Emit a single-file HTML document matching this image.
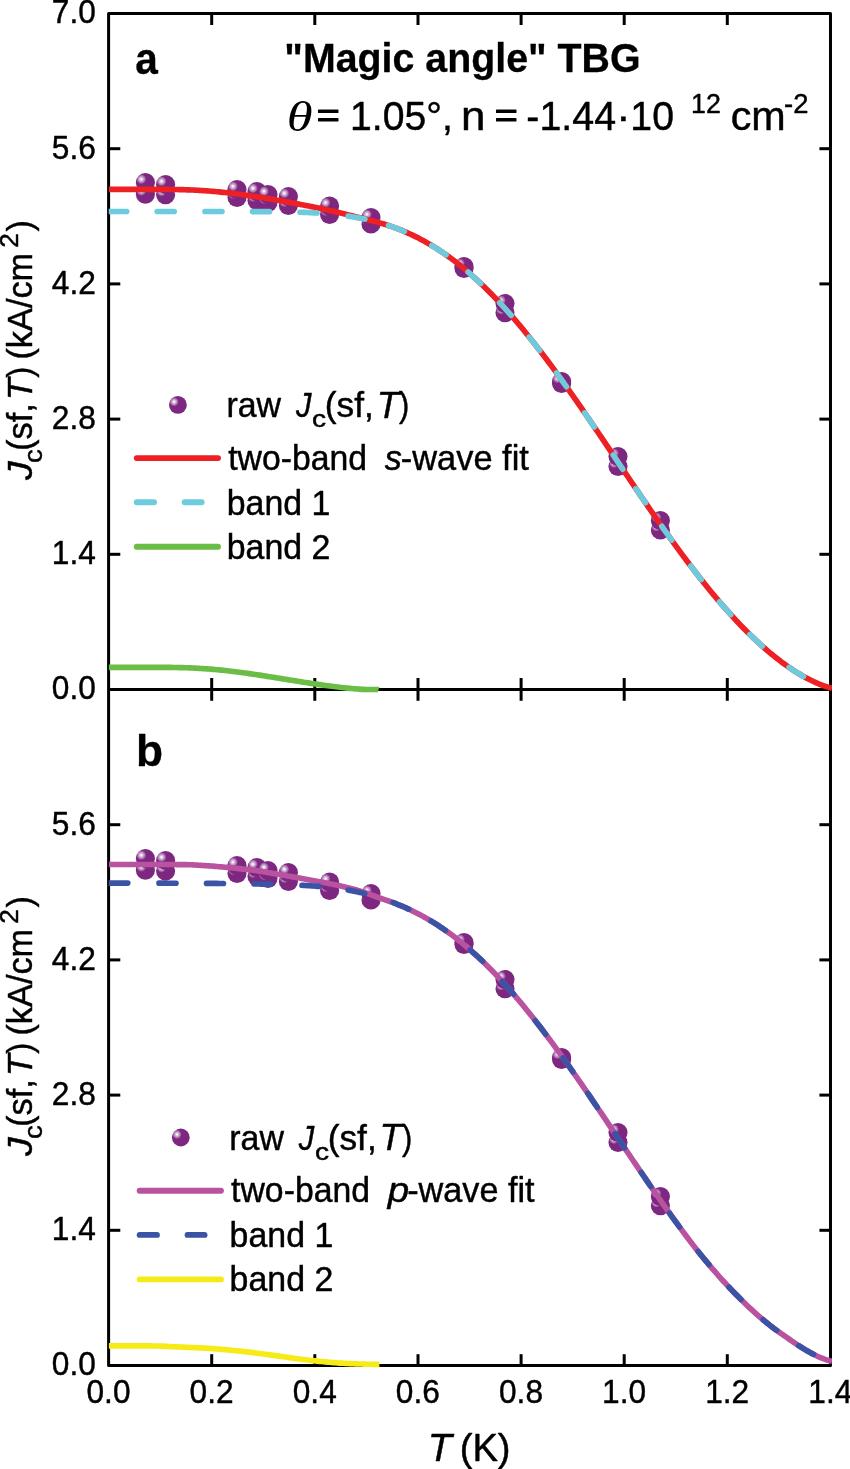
<!DOCTYPE html>
<html><head><meta charset="utf-8"><title>Magic angle TBG - Jc(sf,T)</title>
<style>
html,body{margin:0;padding:0;background:#fff;}
svg{display:block;will-change:transform}
text{font-family:"Liberation Sans",Arial,Helvetica,sans-serif;fill:#000;stroke:#000;stroke-width:0.45px;stroke-linejoin:round}
.i{font-style:italic}
.b{font-weight:bold;stroke-width:0.3px}
.si{font-family:"Liberation Serif","DejaVu Serif",serif;font-style:italic}
.ax{stroke:#000;stroke-width:3;fill:none;stroke-linecap:butt;stroke-linejoin:round}
.cv{fill:none;stroke-width:5.65;stroke-linecap:butt;stroke-linejoin:round}
.ds{fill:none;stroke-width:5.65;stroke-linecap:round;stroke-linejoin:round}
.lg{fill:none;stroke-width:5.9;stroke-linecap:round}
</style></head><body>
<svg width="850" height="1469" viewBox="0 0 850 1469">
<defs>
<radialGradient id="sph" cx="0.285" cy="0.325" r="0.26">
<stop offset="0" stop-color="#ffffff"/>
<stop offset="0.10" stop-color="#ffffff"/>
<stop offset="0.30" stop-color="#dfc2e0"/>
<stop offset="0.62" stop-color="#b888bc"/>
<stop offset="0.88" stop-color="#914a96"/>
<stop offset="1" stop-color="#7d2781"/>
</radialGradient>
<clipPath id="cp"><rect x="108.7" y="0" width="723.3" height="1469"/></clipPath>
</defs>
<rect width="850" height="1469" fill="#fff"/>

<g class="ax">
<rect x="108.6" y="13.5" width="721.9" height="1352.0"/>
<line x1="108.6" y1="689.5" x2="830.5" y2="689.5"/>
<line x1="211.7" y1="13.5" x2="211.7" y2="25"/>
<line x1="211.7" y1="678" x2="211.7" y2="700.8"/>
<line x1="211.7" y1="1354.2" x2="211.7" y2="1365.5"/>
<line x1="314.8" y1="13.5" x2="314.8" y2="25"/>
<line x1="314.8" y1="678" x2="314.8" y2="700.8"/>
<line x1="314.8" y1="1354.2" x2="314.8" y2="1365.5"/>
<line x1="418.0" y1="13.5" x2="418.0" y2="25"/>
<line x1="418.0" y1="678" x2="418.0" y2="700.8"/>
<line x1="418.0" y1="1354.2" x2="418.0" y2="1365.5"/>
<line x1="521.1" y1="13.5" x2="521.1" y2="25"/>
<line x1="521.1" y1="678" x2="521.1" y2="700.8"/>
<line x1="521.1" y1="1354.2" x2="521.1" y2="1365.5"/>
<line x1="624.2" y1="13.5" x2="624.2" y2="25"/>
<line x1="624.2" y1="678" x2="624.2" y2="700.8"/>
<line x1="624.2" y1="1354.2" x2="624.2" y2="1365.5"/>
<line x1="727.3" y1="13.5" x2="727.3" y2="25"/>
<line x1="727.3" y1="678" x2="727.3" y2="700.8"/>
<line x1="727.3" y1="1354.2" x2="727.3" y2="1365.5"/>
<line x1="108.6" y1="554.3" x2="120.3" y2="554.3"/>
<line x1="819.4" y1="554.3" x2="830.5" y2="554.3"/>
<line x1="108.6" y1="419.1" x2="120.3" y2="419.1"/>
<line x1="819.4" y1="419.1" x2="830.5" y2="419.1"/>
<line x1="108.6" y1="283.9" x2="120.3" y2="283.9"/>
<line x1="819.4" y1="283.9" x2="830.5" y2="283.9"/>
<line x1="108.6" y1="148.7" x2="120.3" y2="148.7"/>
<line x1="819.4" y1="148.7" x2="830.5" y2="148.7"/>
<line x1="108.6" y1="1230.3" x2="120.3" y2="1230.3"/>
<line x1="819.4" y1="1230.3" x2="830.5" y2="1230.3"/>
<line x1="108.6" y1="1095.1" x2="120.3" y2="1095.1"/>
<line x1="819.4" y1="1095.1" x2="830.5" y2="1095.1"/>
<line x1="108.6" y1="959.9" x2="120.3" y2="959.9"/>
<line x1="819.4" y1="959.9" x2="830.5" y2="959.9"/>
<line x1="108.6" y1="824.7" x2="120.3" y2="824.7"/>
<line x1="819.4" y1="824.7" x2="830.5" y2="824.7"/>
</g>
<g><circle cx="145.4" cy="194.2" r="9.55" fill="url(#sph)"/>
<circle cx="145.4" cy="182.5" r="9.55" fill="url(#sph)"/>
<circle cx="165.6" cy="194.8" r="9.55" fill="url(#sph)"/>
<circle cx="165.6" cy="184.6" r="9.55" fill="url(#sph)"/>
<circle cx="237.0" cy="197.4" r="9.55" fill="url(#sph)"/>
<circle cx="237.0" cy="189.6" r="9.55" fill="url(#sph)"/>
<circle cx="257.0" cy="200.4" r="9.55" fill="url(#sph)"/>
<circle cx="257.0" cy="191.6" r="9.55" fill="url(#sph)"/>
<circle cx="268.0" cy="202.4" r="9.55" fill="url(#sph)"/>
<circle cx="268.0" cy="194.6" r="9.55" fill="url(#sph)"/>
<circle cx="288.4" cy="205.4" r="9.55" fill="url(#sph)"/>
<circle cx="288.4" cy="196.6" r="9.55" fill="url(#sph)"/>
<circle cx="329.6" cy="214.4" r="9.55" fill="url(#sph)"/>
<circle cx="329.6" cy="206.0" r="9.55" fill="url(#sph)"/>
<circle cx="371.0" cy="224.0" r="9.55" fill="url(#sph)"/>
<circle cx="371.0" cy="217.6" r="9.55" fill="url(#sph)"/>
<circle cx="464.0" cy="268.4" r="9.55" fill="url(#sph)"/>
<circle cx="464.0" cy="266.6" r="9.55" fill="url(#sph)"/>
<circle cx="505.0" cy="312.8" r="9.55" fill="url(#sph)"/>
<circle cx="505.0" cy="303.6" r="9.55" fill="url(#sph)"/>
<circle cx="561.6" cy="383.4" r="9.55" fill="url(#sph)"/>
<circle cx="561.6" cy="381.6" r="9.55" fill="url(#sph)"/>
<circle cx="618.0" cy="466.4" r="9.55" fill="url(#sph)"/>
<circle cx="618.0" cy="456.6" r="9.55" fill="url(#sph)"/>
<circle cx="660.4" cy="529.9" r="9.55" fill="url(#sph)"/>
<circle cx="660.4" cy="520.5" r="9.55" fill="url(#sph)"/></g>
<g><circle cx="145.4" cy="870.2" r="9.55" fill="url(#sph)"/>
<circle cx="145.4" cy="858.5" r="9.55" fill="url(#sph)"/>
<circle cx="165.6" cy="870.9" r="9.55" fill="url(#sph)"/>
<circle cx="165.6" cy="860.5" r="9.55" fill="url(#sph)"/>
<circle cx="237.0" cy="873.5" r="9.55" fill="url(#sph)"/>
<circle cx="237.0" cy="865.5" r="9.55" fill="url(#sph)"/>
<circle cx="257.0" cy="876.5" r="9.55" fill="url(#sph)"/>
<circle cx="257.0" cy="867.5" r="9.55" fill="url(#sph)"/>
<circle cx="268.0" cy="878.5" r="9.55" fill="url(#sph)"/>
<circle cx="268.0" cy="870.5" r="9.55" fill="url(#sph)"/>
<circle cx="288.4" cy="881.5" r="9.55" fill="url(#sph)"/>
<circle cx="288.4" cy="872.5" r="9.55" fill="url(#sph)"/>
<circle cx="329.6" cy="890.5" r="9.55" fill="url(#sph)"/>
<circle cx="329.6" cy="882.0" r="9.55" fill="url(#sph)"/>
<circle cx="371.0" cy="900.0" r="9.55" fill="url(#sph)"/>
<circle cx="371.0" cy="893.5" r="9.55" fill="url(#sph)"/>
<circle cx="464.0" cy="944.5" r="9.55" fill="url(#sph)"/>
<circle cx="464.0" cy="942.5" r="9.55" fill="url(#sph)"/>
<circle cx="505.0" cy="988.8" r="9.55" fill="url(#sph)"/>
<circle cx="505.0" cy="979.5" r="9.55" fill="url(#sph)"/>
<circle cx="561.6" cy="1059.5" r="9.55" fill="url(#sph)"/>
<circle cx="561.6" cy="1057.5" r="9.55" fill="url(#sph)"/>
<circle cx="618.0" cy="1142.5" r="9.55" fill="url(#sph)"/>
<circle cx="618.0" cy="1132.5" r="9.55" fill="url(#sph)"/>
<circle cx="660.4" cy="1205.8" r="9.55" fill="url(#sph)"/>
<circle cx="660.4" cy="1196.5" r="9.55" fill="url(#sph)"/></g>
<g clip-path="url(#cp)">
<path class="cv" stroke="#ed2024" d="M108.60,189.35 L110.61,189.35 L112.62,189.35 L114.63,189.35 L116.64,189.35 L118.65,189.35 L120.66,189.35 L122.67,189.35 L124.68,189.35 L126.69,189.35 L128.69,189.35 L130.70,189.35 L132.71,189.35 L134.72,189.35 L136.73,189.35 L138.74,189.35 L140.75,189.35 L142.76,189.35 L144.77,189.35 L146.78,189.35 L148.79,189.35 L150.80,189.35 L152.81,189.35 L154.82,189.35 L156.83,189.36 L158.84,189.36 L160.85,189.37 L162.85,189.38 L164.86,189.39 L166.87,189.41 L168.88,189.42 L170.89,189.45 L172.90,189.47 L174.91,189.50 L176.92,189.54 L178.93,189.58 L180.94,189.63 L182.95,189.68 L184.96,189.74 L186.97,189.81 L188.98,189.88 L190.99,189.96 L193.00,190.05 L195.01,190.15 L197.02,190.25 L199.02,190.36 L201.03,190.48 L203.04,190.61 L205.05,190.75 L207.06,190.89 L209.07,191.05 L211.08,191.21 L213.09,191.38 L215.10,191.55 L217.11,191.74 L219.12,191.93 L221.13,192.13 L223.14,192.34 L225.15,192.56 L227.16,192.78 L229.17,193.01 L231.18,193.24 L233.19,193.49 L235.19,193.74 L237.20,193.99 L239.21,194.26 L241.22,194.53 L243.23,194.80 L245.24,195.08 L247.25,195.37 L249.26,195.66 L251.27,195.95 L253.28,196.25 L255.29,196.56 L257.30,196.87 L259.31,197.18 L261.32,197.50 L263.33,197.82 L265.34,198.15 L267.35,198.48 L269.36,198.82 L271.37,199.16 L273.37,199.50 L275.38,199.84 L277.39,200.19 L279.40,200.55 L281.41,200.90 L283.42,201.26 L285.43,201.62 L287.44,201.99 L289.45,202.36 L291.46,202.73 L293.47,203.11 L295.48,203.49 L297.49,203.88 L299.50,204.26 L301.51,204.65 L303.52,205.04 L305.53,205.43 L307.53,205.83 L309.54,206.23 L311.55,206.63 L313.56,207.04 L315.57,207.45 L317.58,207.87 L319.59,208.29 L321.60,208.72 L323.61,209.15 L325.62,209.59 L327.63,210.03 L329.64,210.47 L331.65,210.93 L333.66,211.38 L335.67,211.84 L337.68,212.31 L339.69,212.78 L341.70,213.26 L343.71,213.75 L345.71,214.23 L347.72,214.73 L349.73,215.23 L351.74,215.73 L353.75,216.24 L355.76,216.75 L357.77,217.26 L359.78,217.77 L361.79,218.29 L363.80,218.80 L365.81,219.30 L367.82,219.77 L369.83,220.23 L371.84,220.72 L373.85,221.22 L375.86,221.74 L377.87,222.29 L379.88,222.85 L381.88,223.43 L383.89,224.04 L385.90,224.67 L387.91,225.31 L389.92,225.98 L391.93,226.68 L393.94,227.39 L395.95,228.13 L397.96,228.89 L399.97,229.67 L401.98,230.48 L403.99,231.32 L406.00,232.18 L408.01,233.06 L410.02,233.97 L412.03,234.90 L414.04,235.86 L416.04,236.84 L418.05,237.85 L420.06,238.89 L422.07,239.96 L424.08,241.06 L426.09,242.18 L428.10,243.33 L430.11,244.51 L432.12,245.72 L434.13,246.95 L436.14,248.21 L438.15,249.50 L440.16,250.82 L442.17,252.17 L444.18,253.54 L446.19,254.94 L448.20,256.37 L450.21,257.83 L452.22,259.32 L454.22,260.83 L456.23,262.38 L458.24,263.95 L460.25,265.55 L462.26,267.18 L464.27,268.84 L466.28,270.53 L468.29,272.24 L470.30,273.99 L472.31,275.76 L474.32,277.56 L476.33,279.39 L478.34,281.24 L480.35,283.13 L482.36,285.04 L484.37,286.98 L486.38,288.95 L488.38,290.94 L490.39,292.96 L492.40,295.01 L494.41,297.09 L496.42,299.19 L498.43,301.32 L500.44,303.47 L502.45,305.65 L504.46,307.86 L506.47,310.09 L508.48,312.34 L510.49,314.62 L512.50,316.93 L514.51,319.26 L516.52,321.61 L518.53,323.99 L520.54,326.39 L522.55,328.81 L524.56,331.26 L526.56,333.73 L528.57,336.22 L530.58,338.73 L532.59,341.26 L534.60,343.81 L536.61,346.39 L538.62,348.98 L540.63,351.59 L542.64,354.22 L544.65,356.87 L546.66,359.54 L548.67,362.23 L550.68,364.93 L552.69,367.65 L554.70,370.39 L556.71,373.14 L558.72,375.91 L560.73,378.69 L562.73,381.49 L564.74,384.30 L566.75,387.12 L568.76,389.96 L570.77,392.81 L572.78,395.67 L574.79,398.54 L576.80,401.43 L578.81,404.32 L580.82,407.23 L582.83,410.14 L584.84,413.06 L586.85,415.99 L588.86,418.93 L590.87,421.88 L592.88,424.83 L594.89,427.79 L596.89,430.76 L598.90,433.72 L600.91,436.70 L602.92,439.68 L604.93,442.66 L606.94,445.64 L608.95,448.63 L610.96,451.62 L612.97,454.61 L614.98,457.60 L616.99,460.59 L619.00,463.58 L621.01,466.57 L623.02,469.56 L625.03,472.55 L627.04,475.54 L629.05,478.52 L631.06,481.50 L633.07,484.47 L635.07,487.44 L637.08,490.40 L639.09,493.36 L641.10,496.32 L643.11,499.26 L645.12,502.20 L647.13,505.14 L649.14,508.06 L651.15,510.98 L653.16,513.88 L655.17,516.78 L657.18,519.67 L659.19,522.54 L661.20,525.41 L663.21,528.26 L665.22,531.10 L667.23,533.93 L669.24,536.75 L671.24,539.56 L673.25,542.35 L675.26,545.12 L677.27,547.88 L679.28,550.63 L681.29,553.36 L683.30,556.07 L685.31,558.77 L687.32,561.45 L689.33,564.12 L691.34,566.77 L693.35,569.40 L695.36,572.01 L697.37,574.60 L699.38,577.17 L701.39,579.72 L703.40,582.26 L705.41,584.77 L707.41,587.27 L709.42,589.74 L711.43,592.19 L713.44,594.62 L715.45,597.02 L717.46,599.41 L719.47,601.77 L721.48,604.11 L723.49,606.43 L725.50,608.72 L727.51,610.99 L729.52,613.23 L731.53,615.45 L733.54,617.65 L735.55,619.82 L737.56,621.96 L739.57,624.08 L741.58,626.17 L743.58,628.24 L745.59,630.28 L747.60,632.29 L749.61,634.27 L751.62,636.23 L753.63,638.16 L755.64,640.07 L757.65,641.94 L759.66,643.79 L761.67,645.60 L763.68,647.39 L765.69,649.15 L767.70,650.88 L769.71,652.58 L771.72,654.25 L773.73,655.88 L775.74,657.49 L777.75,659.07 L779.75,660.61 L781.76,662.13 L783.77,663.61 L785.78,665.06 L787.79,666.48 L789.80,667.86 L791.81,669.21 L793.82,670.53 L795.83,671.81 L797.84,673.06 L799.85,674.27 L801.86,675.45 L803.87,676.59 L805.88,677.69 L807.89,678.76 L809.90,679.78 L811.91,680.77 L813.92,681.72 L815.92,682.63 L817.93,683.50 L819.94,684.32 L821.95,685.10 L823.96,685.83 L825.97,686.52 L827.98,687.15 L829.99,687.73 L832.00,688.24"/>
<path class="ds" stroke="#6ecbdd" d="M108.60,211.52 L110.61,211.52 L112.62,211.52 L114.63,211.52 L116.64,211.52 L118.65,211.52 L120.66,211.52 L122.67,211.52 L124.68,211.52 L126.69,211.52 L126.70,211.52 M157.20,211.52 L158.84,211.52 L160.85,211.52 L162.85,211.52 L164.86,211.52 L166.87,211.52 L168.88,211.52 L170.89,211.52 L172.90,211.52 L174.20,211.52 M205.00,211.52 L205.05,211.52 L207.06,211.52 L209.07,211.52 L211.08,211.52 L213.09,211.52 L215.10,211.52 L217.11,211.52 L219.12,211.52 L221.13,211.52 L222.00,211.52 M252.50,211.56 L253.28,211.56 L255.29,211.57 L257.30,211.57 L259.31,211.58 L261.32,211.59 L263.33,211.60 L265.34,211.61 L267.35,211.63 L269.36,211.64 L269.50,211.64 M300.01,212.24 L301.51,212.29 L303.52,212.36 L305.53,212.43 L307.53,212.52 L309.54,212.60 L311.55,212.70 L313.56,212.81 L315.57,212.92 L316.99,213.00 M348.11,216.11 L349.73,216.35 L351.74,216.67 L353.75,217.00 L355.76,217.34 L357.77,217.71 L359.78,218.08 L361.79,218.48 L363.80,218.89 L364.84,219.11 M388.49,225.50 L389.92,225.98 L391.93,226.68 L393.94,227.39 L395.95,228.13 L397.96,228.89 L399.97,229.67 L401.98,230.48 L403.99,231.32 L404.39,231.49 M431.81,245.53 L432.12,245.72 L434.13,246.95 L436.14,248.21 L438.15,249.50 L440.16,250.82 L442.17,252.17 L444.18,253.54 L446.03,254.83 M468.12,272.10 L468.29,272.24 L470.30,273.99 L472.31,275.76 L474.32,277.56 L476.33,279.39 L478.34,281.24 L480.35,283.13 L480.74,283.50 M499.76,302.74 L500.44,303.47 L502.45,305.65 L504.46,307.86 L506.47,310.09 L508.48,312.34 L510.49,314.62 L511.14,315.37 M529.22,337.02 L530.58,338.73 L532.59,341.26 L534.60,343.81 L536.61,346.39 L538.62,348.98 L539.71,350.40 M556.52,372.88 L556.71,373.14 L558.72,375.91 L560.73,378.69 L562.73,381.49 L564.74,384.30 L566.44,386.68 M584.70,412.86 L584.84,413.06 L586.85,415.99 L588.86,418.93 L590.87,421.88 L592.88,424.83 L594.28,426.90 M613.26,455.04 L614.98,457.60 L616.99,460.59 L619.00,463.58 L621.01,466.57 L622.74,469.15 M635.92,488.69 L637.08,490.40 L639.09,493.36 L641.10,496.32 L643.11,499.26 L645.12,502.20 L645.49,502.75 M661.79,526.25 L663.21,528.26 L665.22,531.10 L667.23,533.93 L669.24,536.75 L671.24,539.56 L671.64,540.11 M690.83,566.09 L691.34,566.77 L693.35,569.40 L695.36,572.01 L697.37,574.60 L699.38,577.17 L701.23,579.53 M719.53,601.84 L721.48,604.11 L723.49,606.43 L725.50,608.72 L727.51,610.99 L729.52,613.23 L730.76,614.60 M749.86,634.52 L751.62,636.23 L753.63,638.16 L755.64,640.07 L757.65,641.94 L759.66,643.79 L761.67,645.60 L762.27,646.14 M789.10,667.37 L789.80,667.86 L791.81,669.21 L793.82,670.53 L795.83,671.81 L797.84,673.06 L799.85,674.27 L801.86,675.45 L803.51,676.38"/>
<path class="cv" stroke="#6abd45" d="M108.60,667.32 L110.61,667.32 L112.62,667.32 L114.63,667.32 L116.64,667.32 L118.65,667.32 L120.66,667.32 L122.67,667.32 L124.68,667.32 L126.69,667.32 L128.69,667.32 L130.70,667.32 L132.71,667.32 L134.72,667.32 L136.73,667.32 L138.74,667.32 L140.75,667.32 L142.76,667.32 L144.77,667.32 L146.78,667.32 L148.79,667.33 L150.80,667.33 L152.81,667.33 L154.82,667.33 L156.83,667.33 L158.84,667.34 L160.85,667.35 L162.85,667.36 L164.86,667.37 L166.87,667.38 L168.88,667.40 L170.89,667.42 L172.90,667.45 L174.91,667.48 L176.92,667.52 L178.93,667.56 L180.94,667.60 L182.95,667.66 L184.96,667.72 L186.97,667.78 L188.98,667.86 L190.99,667.94 L193.00,668.03 L195.01,668.12 L197.02,668.23 L199.02,668.34 L201.03,668.46 L203.04,668.59 L205.05,668.72 L207.06,668.87 L209.07,669.02 L211.08,669.18 L213.09,669.35 L215.10,669.53 L217.11,669.71 L219.12,669.91 L221.13,670.11 L223.14,670.31 L225.15,670.53 L227.16,670.75 L229.17,670.98 L231.18,671.22 L233.19,671.46 L235.19,671.71 L237.20,671.96 L239.21,672.22 L241.22,672.49 L243.23,672.76 L245.24,673.04 L247.25,673.32 L249.26,673.61 L251.27,673.90 L253.28,674.19 L255.29,674.49 L257.30,674.80 L259.31,675.10 L261.32,675.41 L263.33,675.72 L265.34,676.04 L267.35,676.35 L269.36,676.67 L271.37,676.99 L273.37,677.32 L275.38,677.64 L277.39,677.97 L279.40,678.29 L281.41,678.62 L283.42,678.94 L285.43,679.27 L287.44,679.60 L289.45,679.93 L291.46,680.25 L293.47,680.58 L295.48,680.90 L297.49,681.22 L299.50,681.55 L301.51,681.87 L303.52,682.18 L305.53,682.50 L307.53,682.81 L309.54,683.12 L311.55,683.43 L313.56,683.74 L315.57,684.04 L317.58,684.33 L319.59,684.63 L321.60,684.92 L323.61,685.20 L325.62,685.48 L327.63,685.76 L329.64,686.03 L331.65,686.30 L333.66,686.56 L335.67,686.81 L337.68,687.05 L339.69,687.29 L341.70,687.53 L343.71,687.75 L345.71,687.97 L347.72,688.17 L349.73,688.37 L351.74,688.56 L353.75,688.74 L355.76,688.90 L357.77,689.05 L359.78,689.19 L361.79,689.31 L363.80,689.41 L365.81,689.48 L367.82,689.50 L369.83,689.50 L371.84,689.50 L373.85,689.50 L375.86,689.50 L377.87,689.50 L378.50,689.70"/>
<path class="cv" stroke="#b9529f" d="M108.60,864.50 L110.61,864.50 L112.62,864.50 L114.63,864.50 L116.64,864.50 L118.65,864.50 L120.66,864.50 L122.67,864.50 L124.68,864.50 L126.69,864.50 L128.69,864.50 L130.70,864.50 L132.71,864.50 L134.72,864.50 L136.73,864.50 L138.74,864.50 L140.75,864.50 L142.76,864.50 L144.77,864.50 L146.78,864.50 L148.79,864.50 L150.80,864.50 L152.81,864.50 L154.82,864.50 L156.83,864.50 L158.84,864.51 L160.85,864.51 L162.85,864.51 L164.86,864.52 L166.87,864.52 L168.88,864.53 L170.89,864.54 L172.90,864.54 L174.91,864.55 L176.92,864.56 L178.93,864.57 L180.94,864.58 L182.95,864.59 L184.96,864.61 L186.97,864.65 L188.98,864.72 L190.99,864.80 L193.00,864.90 L195.01,865.02 L197.02,865.13 L199.02,865.25 L201.03,865.36 L203.04,865.48 L205.05,865.61 L207.06,865.74 L209.07,865.89 L211.08,866.04 L213.09,866.19 L215.10,866.36 L217.11,866.52 L219.12,866.70 L221.13,866.87 L223.14,867.05 L225.15,867.24 L227.16,867.42 L229.17,867.61 L231.18,867.80 L233.19,868.00 L235.19,868.20 L237.20,868.41 L239.21,868.62 L241.22,868.84 L243.23,869.07 L245.24,869.30 L247.25,869.53 L249.26,869.78 L251.27,870.03 L253.28,870.29 L255.29,870.55 L257.30,870.82 L259.31,871.10 L261.32,871.40 L263.33,871.72 L265.34,872.07 L267.35,872.43 L269.36,872.79 L271.37,873.14 L273.37,873.48 L275.38,873.83 L277.39,874.18 L279.40,874.52 L281.41,874.87 L283.42,875.22 L285.43,875.57 L287.44,875.92 L289.45,876.27 L291.46,876.62 L293.47,876.97 L295.48,877.33 L297.49,877.69 L299.50,878.05 L301.51,878.42 L303.52,878.79 L305.53,879.16 L307.53,879.53 L309.54,879.91 L311.55,880.29 L313.56,880.67 L315.57,881.05 L317.58,881.42 L319.59,881.80 L321.60,882.17 L323.61,882.55 L325.62,882.93 L327.63,883.31 L329.64,883.70 L331.65,884.10 L333.66,884.50 L335.67,884.91 L337.68,885.34 L339.69,885.77 L341.70,886.21 L343.71,886.67 L345.71,887.14 L347.72,887.63 L349.73,888.13 L351.74,888.66 L353.75,889.20 L355.76,889.77 L357.77,890.37 L359.78,890.98 L361.79,891.62 L363.80,892.27 L365.81,892.94 L367.82,893.63 L369.83,894.33 L371.84,895.05 L373.85,895.78 L375.86,896.53 L377.87,897.28 L379.88,898.05 L381.88,898.72 L383.89,899.39 L385.90,900.08 L387.91,900.77 L389.92,901.48 L391.93,902.20 L393.94,902.95 L395.95,903.72 L397.96,904.51 L399.97,905.32 L401.98,906.16 L403.99,907.02 L406.00,907.90 L408.01,908.81 L410.02,909.74 L412.03,910.70 L414.04,911.68 L416.04,912.69 L418.05,913.72 L420.06,914.78 L422.07,915.87 L424.08,916.98 L426.09,918.11 L428.10,919.27 L430.11,920.46 L432.12,921.68 L434.13,922.92 L436.14,924.19 L438.15,925.49 L440.16,926.81 L442.17,928.16 L444.18,929.54 L446.19,930.94 L448.20,932.37 L450.21,933.83 L452.22,935.32 L454.22,936.83 L456.23,938.38 L458.24,939.95 L460.25,941.55 L462.26,943.18 L464.27,944.84 L466.28,946.53 L468.29,948.24 L470.30,949.99 L472.31,951.76 L474.32,953.56 L476.33,955.39 L478.34,957.24 L480.35,959.13 L482.36,961.04 L484.37,962.98 L486.38,964.95 L488.38,966.94 L490.39,968.96 L492.40,971.01 L494.41,973.09 L496.42,975.19 L498.43,977.32 L500.44,979.47 L502.45,981.65 L504.46,983.86 L506.47,986.09 L508.48,988.34 L510.49,990.62 L512.50,992.93 L514.51,995.26 L516.52,997.61 L518.53,999.99 L520.54,1002.39 L522.55,1004.81 L524.56,1007.26 L526.56,1009.73 L528.57,1012.22 L530.58,1014.73 L532.59,1017.26 L534.60,1019.81 L536.61,1022.39 L538.62,1024.98 L540.63,1027.59 L542.64,1030.22 L544.65,1032.87 L546.66,1035.54 L548.67,1038.23 L550.68,1040.93 L552.69,1043.65 L554.70,1046.39 L556.71,1049.14 L558.72,1051.91 L560.73,1054.69 L562.73,1057.49 L564.74,1060.30 L566.75,1063.12 L568.76,1065.96 L570.77,1068.81 L572.78,1071.67 L574.79,1074.54 L576.80,1077.43 L578.81,1080.32 L580.82,1083.23 L582.83,1086.14 L584.84,1089.06 L586.85,1091.99 L588.86,1094.93 L590.87,1097.88 L592.88,1100.83 L594.89,1103.79 L596.89,1106.76 L598.90,1109.72 L600.91,1112.70 L602.92,1115.68 L604.93,1118.66 L606.94,1121.64 L608.95,1124.63 L610.96,1127.62 L612.97,1130.61 L614.98,1133.60 L616.99,1136.59 L619.00,1139.58 L621.01,1142.57 L623.02,1145.56 L625.03,1148.55 L627.04,1151.54 L629.05,1154.52 L631.06,1157.50 L633.07,1160.47 L635.07,1163.44 L637.08,1166.40 L639.09,1169.36 L641.10,1172.32 L643.11,1175.26 L645.12,1178.20 L647.13,1181.14 L649.14,1184.06 L651.15,1186.98 L653.16,1189.88 L655.17,1192.78 L657.18,1195.67 L659.19,1198.54 L661.20,1201.41 L663.21,1204.26 L665.22,1207.10 L667.23,1209.93 L669.24,1212.75 L671.24,1215.56 L673.25,1218.35 L675.26,1221.12 L677.27,1223.88 L679.28,1226.63 L681.29,1229.36 L683.30,1232.07 L685.31,1234.77 L687.32,1237.45 L689.33,1240.12 L691.34,1242.76 L693.35,1245.37 L695.36,1247.95 L697.37,1250.50 L699.38,1253.02 L701.39,1255.50 L703.40,1257.96 L705.41,1260.40 L707.41,1262.81 L709.42,1265.19 L711.43,1267.55 L713.44,1269.89 L715.45,1272.21 L717.46,1274.51 L719.47,1276.79 L721.48,1279.04 L723.49,1281.25 L725.50,1283.44 L727.51,1285.60 L729.52,1287.73 L731.53,1289.84 L733.54,1291.93 L735.55,1294.00 L737.56,1296.05 L739.57,1298.08 L741.58,1300.08 L743.58,1302.06 L745.59,1304.01 L747.60,1305.93 L749.61,1307.83 L751.62,1309.69 L753.63,1311.53 L755.64,1313.33 L757.65,1315.10 L759.66,1316.84 L761.67,1318.56 L763.68,1320.24 L765.69,1321.89 L767.70,1323.52 L769.71,1325.12 L771.72,1326.69 L773.73,1328.22 L775.74,1329.70 L777.75,1331.16 L779.75,1332.59 L781.76,1334.00 L783.77,1335.40 L785.78,1336.79 L787.79,1338.18 L789.80,1339.57 L791.81,1340.96 L793.82,1342.34 L795.83,1343.71 L797.84,1345.06 L799.85,1346.38 L801.86,1347.66 L803.87,1348.90 L805.88,1350.09 L807.89,1351.24 L809.90,1352.37 L811.91,1353.47 L813.92,1354.52 L815.92,1355.53 L817.93,1356.48 L819.94,1357.37 L821.95,1358.19 L823.96,1358.93 L825.97,1359.60 L827.98,1360.19 L829.99,1360.71 L832.00,1361.14"/>
<path class="ds" stroke="#3a53a4" d="M108.60,883.07 L110.61,883.07 L112.62,883.07 L114.63,883.07 L116.64,883.08 L118.65,883.08 L120.66,883.08 L122.67,883.08 L124.68,883.08 L126.69,883.09 L127.80,883.09 M159.00,883.16 L160.85,883.17 L162.85,883.18 L164.86,883.18 L166.87,883.19 L168.88,883.20 L170.89,883.21 L172.90,883.22 L174.91,883.22 L176.00,883.23 M206.50,883.38 L207.06,883.38 L209.07,883.39 L211.08,883.40 L213.09,883.41 L215.10,883.42 L217.11,883.44 L219.12,883.45 L221.13,883.47 L223.14,883.49 L223.50,883.49 M254.00,883.95 L255.29,883.97 L257.30,884.01 L259.31,884.05 L261.32,884.08 L263.33,884.12 L265.34,884.16 L267.35,884.19 L269.36,884.23 L271.00,884.27 M302.01,885.29 L303.52,885.37 L305.53,885.48 L307.53,885.60 L309.54,885.73 L311.55,885.86 L313.56,886.01 L315.57,886.16 L317.58,886.31 L318.98,886.43 M348.15,890.09 L349.73,890.37 L351.74,890.74 L353.75,891.12 L355.76,891.52 L357.77,891.95 L359.78,892.40 L361.79,892.87 L363.80,893.37 L364.78,893.62 M393.09,902.63 L393.94,902.95 L395.95,903.72 L397.96,904.51 L399.97,905.32 L401.98,906.16 L403.99,907.02 L406.00,907.90 L408.01,908.81 L408.78,909.17 M431.10,921.06 L432.12,921.68 L434.13,922.92 L436.14,924.19 L438.15,925.49 L440.16,926.81 L442.17,928.16 L444.18,929.54 L445.34,930.35 M470.17,949.87 L470.30,949.99 L472.31,951.76 L474.32,953.56 L476.33,955.39 L478.34,957.24 L480.35,959.13 L482.36,961.04 L482.69,961.37 M502.31,981.49 L502.45,981.65 L504.46,983.86 L506.47,986.09 L508.48,988.34 L510.49,990.62 L512.50,992.93 L513.60,994.20 M535.30,1020.70 L536.61,1022.39 L538.62,1024.98 L540.63,1027.59 L542.64,1030.22 L544.65,1032.87 L545.64,1034.19 M563.07,1057.96 L564.74,1060.30 L566.75,1063.12 L568.76,1065.96 L570.77,1068.81 L572.78,1071.67 L572.89,1071.83 M587.71,1093.26 L588.86,1094.93 L590.87,1097.88 L592.88,1100.83 L594.89,1103.79 L596.89,1106.76 L597.27,1107.31 M615.01,1133.65 L616.99,1136.59 L619.00,1139.58 L621.01,1142.57 L623.02,1145.56 L624.49,1147.76 M641.20,1172.47 L643.11,1175.26 L645.12,1178.20 L647.13,1181.14 L649.14,1184.06 L650.82,1186.49 M669.53,1213.17 L671.24,1215.56 L673.25,1218.35 L675.26,1221.12 L677.27,1223.88 L679.28,1226.63 L679.51,1226.93 M698.15,1251.48 L699.38,1253.02 L701.39,1255.50 L703.40,1257.96 L705.41,1260.40 L707.41,1262.81 L708.94,1264.62 M729.07,1287.25 L729.52,1287.73 L731.53,1289.84 L733.54,1291.93 L735.55,1294.00 L737.56,1296.05 L739.57,1298.08 L740.92,1299.43 M763.10,1319.76 L763.68,1320.24 L765.69,1321.89 L767.70,1323.52 L769.71,1325.12 L771.72,1326.69 L773.73,1328.22 L775.74,1329.70 L776.48,1330.24 M798.78,1345.68 L799.85,1346.38 L801.86,1347.66 L803.87,1348.90 L805.88,1350.09 L807.89,1351.24 L809.90,1352.37 L811.91,1353.47 L813.44,1354.27"/>
<path class="cv" stroke="#f6eb16" d="M108.60,1345.90 L110.61,1345.90 L112.62,1345.90 L114.63,1345.90 L116.64,1345.90 L118.65,1345.90 L120.66,1345.90 L122.67,1345.90 L124.68,1345.90 L126.69,1345.90 L128.69,1345.90 L130.70,1345.90 L132.71,1345.90 L134.72,1345.90 L136.73,1345.90 L138.74,1345.90 L140.75,1345.90 L142.76,1345.90 L144.77,1345.91 L146.78,1345.92 L148.79,1345.93 L150.80,1345.94 L152.81,1345.95 L154.82,1345.97 L156.83,1345.99 L158.84,1346.01 L160.85,1346.07 L162.85,1346.16 L164.86,1346.28 L166.87,1346.40 L168.88,1346.51 L170.89,1346.61 L172.90,1346.70 L174.91,1346.79 L176.92,1346.88 L178.93,1346.96 L180.94,1347.04 L182.95,1347.13 L184.96,1347.21 L186.97,1347.29 L188.98,1347.37 L190.99,1347.46 L193.00,1347.55 L195.01,1347.64 L197.02,1347.73 L199.02,1347.83 L201.03,1347.93 L203.04,1348.04 L205.05,1348.15 L207.06,1348.27 L209.07,1348.40 L211.08,1348.54 L213.09,1348.68 L215.10,1348.83 L217.11,1348.99 L219.12,1349.16 L221.13,1349.33 L223.14,1349.50 L225.15,1349.68 L227.16,1349.87 L229.17,1350.06 L231.18,1350.25 L233.19,1350.45 L235.19,1350.65 L237.20,1350.85 L239.21,1351.06 L241.22,1351.26 L243.23,1351.48 L245.24,1351.70 L247.25,1351.93 L249.26,1352.17 L251.27,1352.42 L253.28,1352.67 L255.29,1352.93 L257.30,1353.19 L259.31,1353.46 L261.32,1353.72 L263.33,1353.99 L265.34,1354.27 L267.35,1354.54 L269.36,1354.81 L271.37,1355.08 L273.37,1355.35 L275.38,1355.61 L277.39,1355.88 L279.40,1356.16 L281.41,1356.44 L283.42,1356.73 L285.43,1357.02 L287.44,1357.31 L289.45,1357.61 L291.46,1357.90 L293.47,1358.19 L295.48,1358.48 L297.49,1358.77 L299.50,1359.04 L301.51,1359.31 L303.52,1359.57 L305.53,1359.82 L307.53,1360.06 L309.54,1360.29 L311.55,1360.50 L313.56,1360.71 L315.57,1360.92 L317.58,1361.13 L319.59,1361.33 L321.60,1361.53 L323.61,1361.73 L325.62,1361.92 L327.63,1362.11 L329.64,1362.29 L331.65,1362.46 L333.66,1362.63 L335.67,1362.78 L337.68,1362.93 L339.69,1363.06 L341.70,1363.19 L343.71,1363.30 L345.71,1363.39 L347.72,1363.48 L349.73,1363.57 L351.74,1363.65 L353.75,1363.74 L355.76,1363.82 L357.77,1363.90 L359.78,1363.97 L361.79,1364.04 L363.80,1364.11 L365.81,1364.17 L367.82,1364.22 L369.83,1364.27 L371.84,1364.31 L373.85,1364.35 L375.86,1364.38 L377.87,1364.39 L379.40,1364.40"/>
</g>
<circle cx="177.9" cy="404.9" r="8.9" fill="url(#sph)"/>
<line class="lg" stroke="#ed2024" x1="136.75" y1="458.1" x2="218.05" y2="458.1"/>
<line class="lg" stroke="#6ecbdd" x1="136.75" y1="502.3" x2="154.05" y2="502.3"/>
<line class="lg" stroke="#6ecbdd" x1="184.65" y1="502.3" x2="201.65" y2="502.3"/>
<line class="lg" stroke="#6abd45" x1="136.75" y1="546.8" x2="218.05" y2="546.8"/>
<text transform="translate(226.41,417.30) scale(0.9777,1)" font-size="34.7">raw</text>
<text transform="translate(295.88,417.30) scale(0.8928,1)" font-size="34.7" class="i">J</text>
<text transform="translate(312.00,427.00) scale(1.1725,1)" font-size="24">c</text>
<text transform="translate(324.79,417.40) scale(1.0174,1)" font-size="34.7">(sf,</text>
<text transform="translate(376.69,417.50) scale(1.0089,1)" font-size="36.4" class="i">T</text>
<text transform="translate(399.07,417.40) scale(0.8893,1)" font-size="34.7">)</text>
<text transform="translate(228.19,469.50) scale(0.9735,1)" font-size="34.7">two-band</text>
<text transform="translate(384.81,469.50) scale(0.9838,1)" font-size="34.7" class="i">s</text>
<text transform="translate(400.85,469.50) scale(0.9910,1)" font-size="34.7">-wave fit</text>
<text transform="translate(226.70,514.80) scale(0.9770,1)" font-size="34.7">band 1</text>
<text transform="translate(226.70,558.60) scale(0.9774,1)" font-size="34.7">band 2</text>
<circle cx="180.8" cy="1137.5" r="8.9" fill="url(#sph)"/>
<line class="lg" stroke="#b9529f" x1="139.65" y1="1190.7" x2="220.95" y2="1190.7"/>
<line class="lg" stroke="#3a53a4" x1="139.65" y1="1234.9" x2="156.95" y2="1234.9"/>
<line class="lg" stroke="#3a53a4" x1="187.55" y1="1234.9" x2="204.55" y2="1234.9"/>
<line class="lg" stroke="#f6eb16" x1="139.65" y1="1279.4" x2="220.95" y2="1279.4"/>
<text transform="translate(229.31,1149.90) scale(0.9777,1)" font-size="34.7">raw</text>
<text transform="translate(298.78,1149.90) scale(0.8928,1)" font-size="34.7" class="i">J</text>
<text transform="translate(314.90,1159.60) scale(1.1725,1)" font-size="24">c</text>
<text transform="translate(327.69,1150.00) scale(1.0174,1)" font-size="34.7">(sf,</text>
<text transform="translate(379.59,1150.10) scale(1.0089,1)" font-size="36.4" class="i">T</text>
<text transform="translate(401.97,1150.00) scale(0.8893,1)" font-size="34.7">)</text>
<text transform="translate(231.09,1202.10) scale(0.9735,1)" font-size="34.7">two-band</text>
<text transform="translate(387.86,1202.10) scale(1.1108,1)" font-size="34.7" class="i">p</text>
<text transform="translate(407.16,1202.10) scale(0.9863,1)" font-size="34.7">-wave fit</text>
<text transform="translate(229.60,1247.40) scale(0.9770,1)" font-size="34.7">band 1</text>
<text transform="translate(229.60,1291.20) scale(0.9774,1)" font-size="34.7">band 2</text>
<text transform="translate(95.85,699.30) scale(0.9313,1)" font-size="34" text-anchor="end">0.0</text>
<text transform="translate(95.85,564.10) scale(0.9313,1)" font-size="34" text-anchor="end">1.4</text>
<text transform="translate(95.85,428.90) scale(0.9313,1)" font-size="34" text-anchor="end">2.8</text>
<text transform="translate(95.85,293.71) scale(0.9313,1)" font-size="34" text-anchor="end">4.2</text>
<text transform="translate(95.85,158.51) scale(0.9313,1)" font-size="34" text-anchor="end">5.6</text>
<text transform="translate(95.85,1375.30) scale(0.9313,1)" font-size="34" text-anchor="end">0.0</text>
<text transform="translate(95.85,1240.10) scale(0.9313,1)" font-size="34" text-anchor="end">1.4</text>
<text transform="translate(95.85,1104.90) scale(0.9313,1)" font-size="34" text-anchor="end">2.8</text>
<text transform="translate(95.85,969.71) scale(0.9313,1)" font-size="34" text-anchor="end">4.2</text>
<text transform="translate(95.85,834.51) scale(0.9313,1)" font-size="34" text-anchor="end">5.6</text>
<text transform="translate(95.85,23.30) scale(0.9313,1)" font-size="34" text-anchor="end">7.0</text>
<text transform="translate(108.50,1403.00) scale(0.9313,1)" font-size="34" text-anchor="middle">0.0</text>
<text transform="translate(211.62,1403.00) scale(0.9313,1)" font-size="34" text-anchor="middle">0.2</text>
<text transform="translate(314.74,1403.00) scale(0.9313,1)" font-size="34" text-anchor="middle">0.4</text>
<text transform="translate(417.86,1403.00) scale(0.9313,1)" font-size="34" text-anchor="middle">0.6</text>
<text transform="translate(520.98,1403.00) scale(0.9313,1)" font-size="34" text-anchor="middle">0.8</text>
<text transform="translate(624.10,1403.00) scale(0.9313,1)" font-size="34" text-anchor="middle">1.0</text>
<text transform="translate(727.22,1403.00) scale(0.9313,1)" font-size="34" text-anchor="middle">1.2</text>
<text transform="translate(830.34,1403.00) scale(0.9313,1)" font-size="34" text-anchor="middle">1.4</text>
<text transform="translate(427.65,1461.00) scale(1.0309,1)" font-size="38.3" class="i">T</text>
<text transform="translate(459.71,1461.00) scale(0.9968,1)" font-size="38.3">(K)</text>
<text transform="translate(135.18,73.60) scale(0.9014,1)" font-size="45" class="b">a</text>
<text transform="translate(135.92,765.50) scale(0.9990,1)" font-size="44.4" class="b">b</text>
<text transform="translate(284.34,72.40) scale(0.9546,1)" font-size="41.2" class="b">"Magic angle" TBG</text>
<text style="stroke-width:0" transform="translate(286.77,130.80) scale(1.2370,1)" font-size="42.6" class="si">θ</text>
<text style="stroke-width:1.2px" transform="translate(316.63,126.80) scale(1.1862,1)" font-size="33.2">=</text>
<text transform="translate(350.06,129.80) scale(0.9488,1)" font-size="41.3">1.05°,</text>
<text transform="translate(460.93,129.80) scale(1.0659,1)" font-size="41.3">n</text>
<text style="stroke-width:1.2px" transform="translate(494.83,126.80) scale(1.1862,1)" font-size="33.2">=</text>
<text transform="translate(526.33,129.80) scale(0.9531,1)" font-size="41.3">-1.44</text>
<text transform="translate(616.02,129.80) scale(1.0679,1)" font-size="41.3">·</text>
<text transform="translate(630.36,129.80) scale(0.9491,1)" font-size="41.3">10</text>
<text transform="translate(690.99,112.80) scale(0.9746,1)" font-size="27.5">12</text>
<text transform="translate(730.64,129.80) scale(1.0001,1)" font-size="41.3">cm</text>
<text transform="translate(784.07,112.80) scale(0.9957,1)" font-size="27.5">-2</text>
<g transform="translate(32.0,0) rotate(-90)">
<text transform="translate(-479.91,0.00) scale(1.0554,1)" font-size="35.3" class="i">J</text>
<text transform="translate(-463.08,10.10) scale(1.0853,1)" font-size="25.5">c</text>
<text transform="translate(-450.96,0.00) scale(0.9772,1)" font-size="35.3">(sf,</text>
<text transform="translate(-400.34,0.00) scale(1.0208,1)" font-size="35.3" class="i">T</text>
<text transform="translate(-377.85,0.00) scale(0.9497,1)" font-size="35.3">)</text>
<text transform="translate(-359.77,0.00) scale(0.9821,1)" font-size="35.3">(</text>
<text transform="translate(-348.22,0.00) scale(0.9736,1)" font-size="35.3">kA/cm</text>
<text transform="translate(-247.71,-13.90) scale(1.0462,1)" font-size="25.0">2</text>
<text transform="translate(-231.46,0.00) scale(0.9821,1)" font-size="35.3">)</text>
</g>
<g transform="translate(32.0,676) rotate(-90)">
<text transform="translate(-479.91,0.00) scale(1.0554,1)" font-size="35.3" class="i">J</text>
<text transform="translate(-463.08,10.10) scale(1.0853,1)" font-size="25.5">c</text>
<text transform="translate(-450.96,0.00) scale(0.9772,1)" font-size="35.3">(sf,</text>
<text transform="translate(-400.34,0.00) scale(1.0208,1)" font-size="35.3" class="i">T</text>
<text transform="translate(-377.85,0.00) scale(0.9497,1)" font-size="35.3">)</text>
<text transform="translate(-359.77,0.00) scale(0.9821,1)" font-size="35.3">(</text>
<text transform="translate(-348.22,0.00) scale(0.9736,1)" font-size="35.3">kA/cm</text>
<text transform="translate(-247.71,-13.90) scale(1.0462,1)" font-size="25.0">2</text>
<text transform="translate(-231.46,0.00) scale(0.9821,1)" font-size="35.3">)</text>
</g>
</svg></body></html>
